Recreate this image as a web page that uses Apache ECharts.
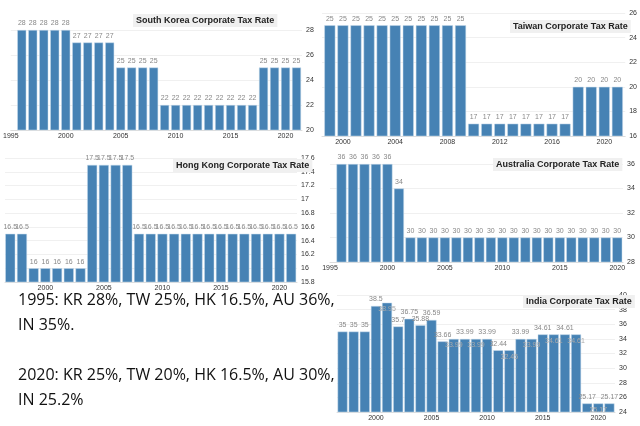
<!DOCTYPE html>
<html>
<head>
<meta charset="utf-8">
<script src="https://cdn.jsdelivr.net/npm/echarts@6/dist/echarts.min.js"></script>
<style>
	body { margin: 0; background: #fff; }
	#chart { width: 640px; height: 426px; }
	#note { position: absolute; left: 18px; top: 287px; font-family: "Open Sans", sans-serif; font-size: 16px; line-height: 25px; color: #111; }
</style>
</head>
<body>
<div id="chart"></div>
<div id="note">1995: KR 28%, TW 25%, HK 16.5%, AU 36%,<br>IN 35%.<br><br>2020: KR 25%, TW 20%, HK 16.5%, AU 30%,<br>IN 25.2%</div>
<script>
// 数据
var krStart = 1996;
var krRates = [28, 28, 28, 28, 28, 27, 27, 27, 27, 25, 25, 25, 25, 22, 22, 22, 22, 22, 22, 22, 22, 22, 25, 25, 25, 25];
var twStart = 1999;
var twRates = [25, 25, 25, 25, 25, 25, 25, 25, 25, 25, 25, 17, 17, 17, 17, 17, 17, 17, 17, 20, 20, 20, 20];
var hkStart = 1997;
var hkRates = [16.5, 16.5, 16, 16, 16, 16, 16, 17.5, 17.5, 17.5, 17.5, 16.5, 16.5, 16.5, 16.5, 16.5, 16.5, 16.5, 16.5, 16.5, 16.5, 16.5, 16.5, 16.5, 16.5];
var auStart = 1996;
var auRates = [36, 36, 36, 36, 36, 34, 30, 30, 30, 30, 30, 30, 30, 30, 30, 30, 30, 30, 30, 30, 30, 30, 30, 30, 30];
var inStart = 1997;
var inRates = [35, 35, 35, 38.5, 38.95, 35.7, 36.75, 35.88, 36.59, 33.66, 33.99, 33.99, 33.99, 33.99, 32.44, 32.45, 33.99, 33.99, 34.61, 34.61, 34.61, 34.61, 25.17, 25.17, 25.17];
var inLowLabels = [4, 10, 12, 15, 17, 19, 21, 23];

var krYears = [1995, 2000, 2005, 2010, 2015, 2020];
var twYears = [2000, 2004, 2008, 2012, 2016, 2020];
var hkYears = [2000, 2005, 2010, 2015, 2020];
var auYears = [1995, 2000, 2005, 2010, 2015, 2020];
var inYears = [2000, 2005, 2010, 2015, 2020];

var panels = [
	{ title: "South Korea Corporate Tax Rate", start: krStart, rates: krRates, years: krYears,
		grid: { left: 10, top: 30, width: 292, height: 100 }, x: [1995, 2021.5], y: [20, 28, 2], tx: 133, ty: 14, bw: 9 },
	{ title: "Taiwan Corporate Tax Rate", start: twStart, rates: twRates, years: twYears,
		grid: { left: 322, top: 13, width: 305, height: 123 }, x: [1998.4, 2021.6], y: [16, 26, 2], tx: 510, ty: 20, bw: 11 },
	{ title: "Hong Kong Corporate Tax Rate", start: hkStart, rates: hkRates, years: hkYears,
		grid: { left: 5, top: 158, width: 292, height: 124 }, x: [1996.55, 2021.5], y: [15.8, 17.6, 0.2], tx: 173, ty: 159, bw: 10 },
	{ title: "Australia Corporate Tax Rate", start: auStart, rates: auRates, years: auYears,
		grid: { left: 330, top: 164, width: 293, height: 98 }, x: [1995, 2020.5], y: [28, 36, 2], tx: 493, ty: 158, bw: 10 },
	{ title: "India Corporate Tax Rate", start: inStart, rates: inRates, years: inYears,
		grid: { left: 337, top: 295, width: 278, height: 117 }, x: [1996.5, 2021.5], y: [24, 40, 2], tx: 523, ty: 295, bw: 10 }
];

var option = { animation: false, title: [], grid: [], xAxis: [], yAxis: [], series: [] };

panels.forEach(function (p, i) {
	option.title.push({
		text: p.title, left: p.tx, top: p.ty, padding: [2, 3],
		backgroundColor: "#f0f0f0",
		textStyle: { fontSize: 9, fontWeight: "bold", color: "#222", fontFamily: "Liberation Sans" }
	});
	option.grid.push(p.grid);
	option.xAxis.push({
		type: "value", gridIndex: i, min: p.x[0], max: p.x[1],
		axisLine: { show: true, lineStyle: { color: "#ddd" } },
		axisTick: { show: false },
		splitLine: { show: false },
		axisLabel: {
			customValues: p.years, fontSize: 7, color: "#333", margin: 3,
			formatter: function (v) { return String(v); }
		}
	});
	option.yAxis.push({
		type: "value", gridIndex: i, position: "right", min: p.y[0], max: p.y[1], interval: p.y[2],
		axisLine: { show: false }, axisTick: { show: false },
		splitLine: { lineStyle: { color: "#f0f0f0" } },
		axisLabel: { fontSize: 7, color: "#333", margin: 4 }
	});
	var data = p.rates.map(function (v, k) {
		var item = { value: [p.start + k, v] };
		if (i == 4 && inLowLabels.indexOf(k) >= 0) {
			item.label = { position: "insideTop", color: "#aaa" };
		}
		return item;
	});
	option.series.push({
		type: "bar", xAxisIndex: i, yAxisIndex: i, barWidth: p.bw,
		itemStyle: { color: "#4682b4", borderColor: "#c8dcec", borderWidth: 0.5 },
		label: { show: true, position: "top", fontSize: 7, color: "#888", distance: 3 },
		data: data
	});
});

var chart = echarts.init(document.getElementById("chart"));
chart.setOption(option);
</script>
</body>
</html>
